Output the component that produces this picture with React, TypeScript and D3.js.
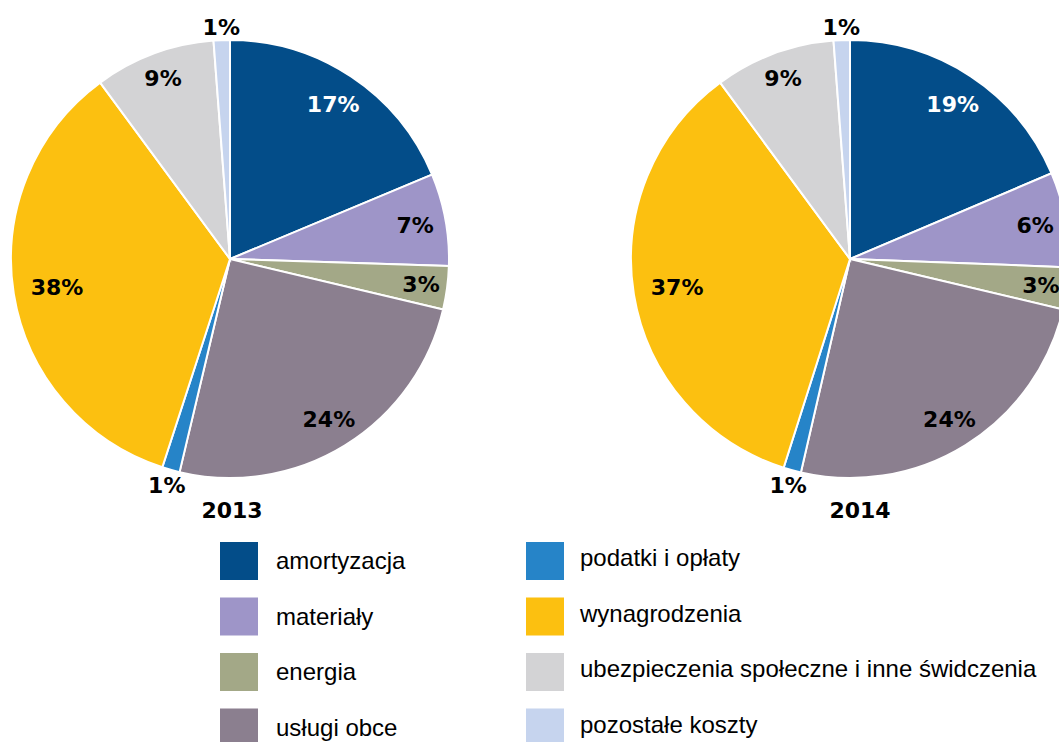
import React from "react";
import * as d3 from "d3";

const categories = [
  "amortyzacja",
  "materiały",
  "energia",
  "usługi obce",
  "podatki i opłaty",
  "wynagrodzenia",
  "ubezpieczenia społeczne i inne świdczenia",
  "pozostałe koszty",
];
const colors = ["#034d89", "#9e95c8", "#a3a887", "#8b7f8f", "#2684c8", "#fcc010", "#d3d3d5", "#c6d4ee"];

// slice sizes as drawn, labels as printed
const share2013 = [18.7, 6.8, 3.2, 25.0, 1.3, 34.9, 8.9, 1.2];
const share2014 = [18.6, 7.0, 3.1, 24.9, 1.3, 35.0, 8.9, 1.2];
const labels2013 = ["17%", "7%", "3%", "24%", "1%", "38%", "9%", "1%"];
const labels2014 = ["19%", "6%", "3%", "24%", "1%", "37%", "9%", "1%"];
const years = ["2013", "2014"];

const W = 1059;
const H = 742;
const R = 219;
const labelR = [0.85, 0.86, 0.88, 0.86, 1.07, 0.8, 0.88, 1.06];

const pies = [
  { cx: 230, cy: 259, shares: share2013, labels: labels2013, year: years[0], yearDx: 2 },
  { cx: 850, cy: 259, shares: share2014, labels: labels2014, year: years[1], yearDx: 10 },
];

const pieGen = d3
  .pie<number>()
  .sort(null)
  .value((d) => d);
const arc = d3.arc<d3.PieArcDatum<number>>().innerRadius(0).outerRadius(R);

const labelFont = "'DejaVu Sans', sans-serif";
const legendFont = "'Liberation Sans', Arial, sans-serif";

function PieChart({ cx, cy, shares, labels, year, yearDx }: any) {
  const arcs = pieGen(shares);
  return (
    <g transform={`translate(${cx},${cy})`}>
      {arcs.map((a, i) => (
        <path key={i} d={arc(a) || ""} fill={colors[i]} stroke="#fff" strokeWidth={2} />
      ))}
      {arcs.map((a, i) => {
        const r = R * labelR[i];
        const [x, y] = d3.arc<d3.PieArcDatum<number>>().innerRadius(r).outerRadius(r).centroid(a);
        return (
          <text
            key={"l" + i}
            x={x}
            y={y}
            dy="0.36em"
            textAnchor="middle"
            fontFamily={labelFont}
            fontWeight="bold"
            fontSize={22}
            fill={i === 0 ? "#fff" : "#000"}
          >
            {labels[i]}
          </text>
        );
      })}
      <text
        x={yearDx}
        y={R + 40}
        textAnchor="middle"
        fontFamily={labelFont}
        fontWeight="bold"
        fontSize={22}
        fill="#000"
      >
        {year}
      </text>
    </g>
  );
}

export default function App() {
  const colX = [220, 526];
  const rowY = d3.scaleLinear().domain([0, 3]).range([542, 708.5]);
  return (
    <div style={{ position: "absolute", left: 0, top: 0 }}>
      <svg width={W} height={H} style={{ display: "block", background: "#fff" }}>
        {pies.map((p, i) => (
          <PieChart key={i} {...p} />
        ))}
        {categories.map((c, i) => {
          const col = Math.floor(i / 4);
          const row = i % 4;
          const y = rowY(row);
          return (
            <g key={c}>
              <rect x={colX[col]} y={y} width={38} height={38} fill={colors[i]} />
              <text
                x={colX[col] + (col === 0 ? 56 : 54)}
                y={y + (col === 0 ? 27 : 24)}
                fontFamily={legendFont}
                fontSize={24}
                fill="#000"
              >
                {c}
              </text>
            </g>
          );
        })}
      </svg>
    </div>
  );
}
